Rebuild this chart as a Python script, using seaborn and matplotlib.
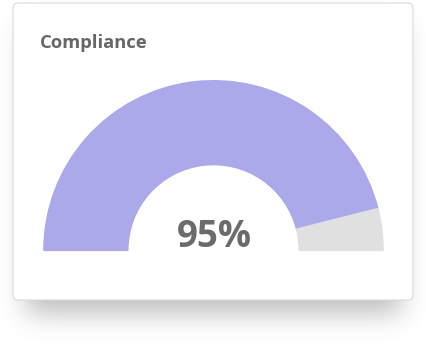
import numpy as np
import matplotlib
matplotlib.use("Agg")
import matplotlib.pyplot as plt
from matplotlib.patches import FancyBboxPatch
import seaborn as sns

# ---- data ----
title = "Compliance"
value_label = "95%"
segment_names = ["Compliant", "Remaining"]
segment_shares = [92.1, 7.9]          # arc shares as drawn
segment_colors = ["#ACA9EA", "#E0E0E0"]

sns.set_theme(style="white")
plt.rcParams['font.family'] = ['Open Sans', 'DejaVu Sans']

W, H = 427, 346
fig = plt.figure(figsize=(W / 100, H / 100), dpi=100)
fig.patch.set_facecolor("white")
ax = fig.add_axes([0, 0, 1, 1])
ax.set_xlim(0, W)
ax.set_ylim(0, H)
ax.axis("off")

def py(y):
    return H - y

# ---- shadow ----
yy, xx = np.mgrid[0:H, 0:W]
mask = ((xx >= 26) & (xx <= 400) & (yy >= 26) & (yy <= 312)).astype(float)
def blur(a, s):
    r = int(3 * s)
    k = np.exp(-np.arange(-r, r + 1) ** 2 / (2 * s * s))
    k /= k.sum()
    a = np.apply_along_axis(lambda m: np.convolve(m, k, mode="same"), 0, a)
    a = np.apply_along_axis(lambda m: np.convolve(m, k, mode="same"), 1, a)
    return a
sh = blur(mask, 13.0)
rgba = np.zeros((H, W, 4))
rgba[..., :3] = 0.35
rgba[..., 3] = sh * 0.40
ax.imshow(rgba, extent=(0, W, 0, H), origin="upper", zorder=0, interpolation="bilinear")
ax.set_xlim(0, W)
ax.set_ylim(0, H)

# ---- card ----
card = FancyBboxPatch((13, py(300)), 400, 297,
                      boxstyle="round,pad=0,rounding_size=5",
                      facecolor="white", edgecolor="#DADADA", linewidth=0.8, zorder=1)
ax.add_patch(card)

# ---- gauge ----
cx, cy = 213.5, py(250.3)
R_out, R_in = 169.5, 85.8
vals = list(segment_shares) + [sum(segment_shares)]
cols = list(segment_colors) + ["none"]
wedges, _ = ax.pie(vals, colors=cols, startangle=180, counterclock=False,
                   center=(cx, cy), radius=R_out, frame=True,
                   wedgeprops=dict(width=R_out - R_in, linewidth=1.2, joinstyle="round"))
for w, c in zip(wedges, cols):
    w.set_zorder(2)
    if c == "none":
        w.set_edgecolor("none")
    else:
        w.set_edgecolor(c)
ax.set_xlim(0, W)
ax.set_ylim(0, H)
ax.set_aspect("auto")
ax.axis("off")

# ---- text ----
ax.text(40, py(48), title, fontsize=13.2, fontweight="bold", color="#666666",
        ha="left", va="baseline", zorder=3)
ax.text(214.2, py(246.7), value_label, fontsize=26.5, fontweight="bold", color="#6B6B6B",
        ha="center", va="baseline", zorder=3)

fig.savefig("out.png", dpi=100, facecolor="white")
